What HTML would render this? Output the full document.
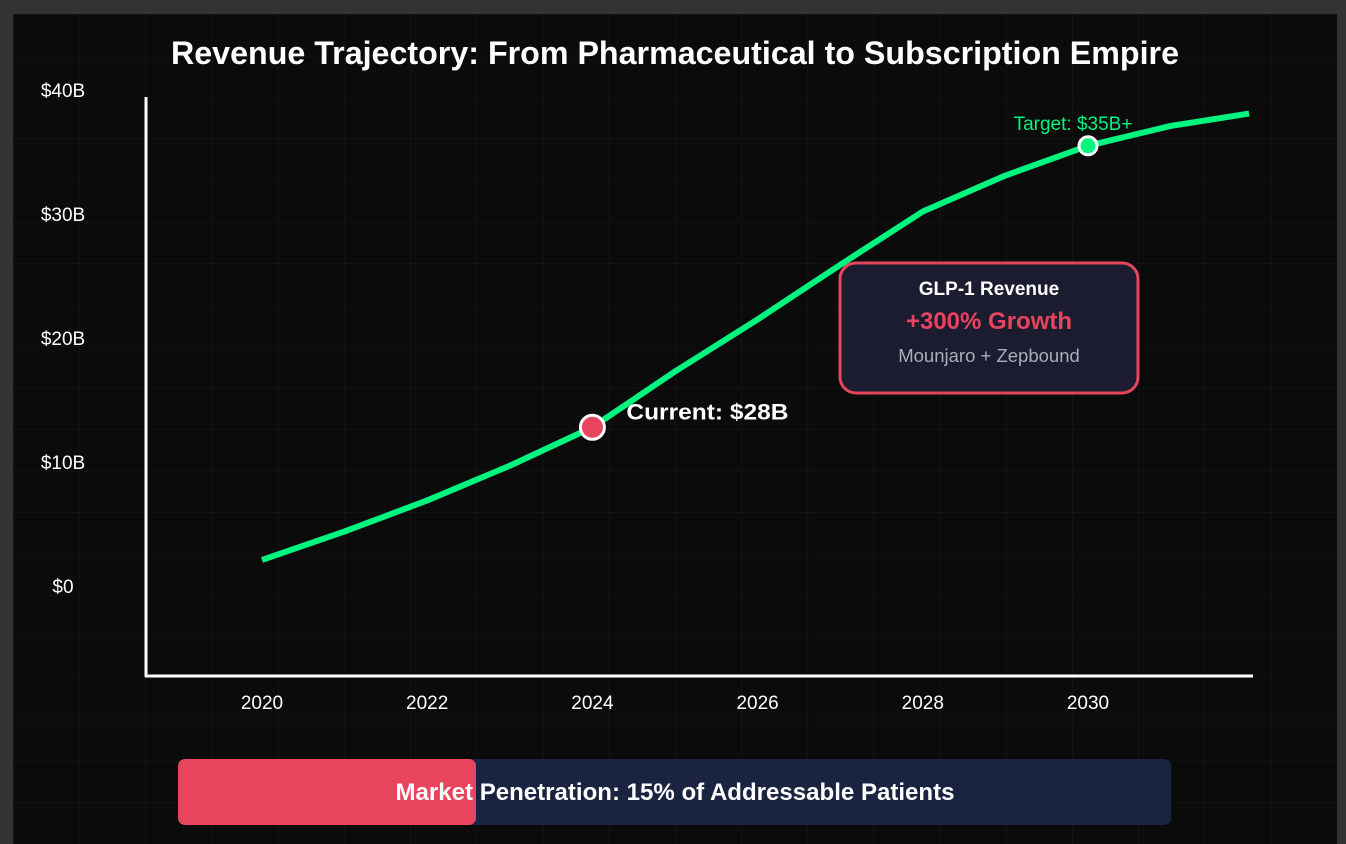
<!DOCTYPE html>
<html><head><meta charset="utf-8">
<style>
html,body{margin:0;padding:0;width:1346px;height:838px;overflow:hidden;background:#333;font-family:"Liberation Sans",sans-serif;}
#panel{position:absolute;left:13px;top:14px;width:1324px;height:830px;background-color:#0b0b0b;
background-image:linear-gradient(to right,#131313 1px,transparent 1px),linear-gradient(to bottom,#131313 1px,transparent 1px);
background-size:66.2px 41.5px;}
svg{position:absolute;left:0;top:0;}
</style></head><body>
<div id="panel"></div>
<svg width="1346" height="838">
<text x="675" y="64" text-anchor="middle" fill="#fff" font-size="32" font-weight="bold" textLength="1008" lengthAdjust="spacingAndGlyphs">Revenue Trajectory: From Pharmaceutical to Subscription Empire</text>
<g id="yticks"></g><g id="xticks"></g>
<line x1="146" y1="97" x2="146" y2="677" stroke="#fff" stroke-width="3"/>
<line x1="145" y1="676" x2="1253" y2="676" stroke="#fff" stroke-width="3"/>
<polyline id="line" fill="none" stroke="#00f57f" stroke-width="6" stroke-linejoin="round"/>
<g id="marks"></g>
<rect x="840" y="263" width="298" height="130" rx="16" fill="#1b1c30" stroke="#e8445e" stroke-width="3"/>
<text x="989" y="295" text-anchor="middle" fill="#fff" font-size="19" font-weight="bold">GLP-1 Revenue</text>
<text x="989" y="329" text-anchor="middle" fill="#e8445e" font-size="24" font-weight="bold">+300% Growth</text>
<text x="989" y="362" text-anchor="middle" fill="#a9adb8" font-size="18.5">Mounjaro + Zepbound</text>
<rect x="178" y="759" width="993" height="66" rx="7" fill="#1a2340"/>
<rect x="178" y="759" width="298" height="66" rx="7" fill="#e8445e"/>
<text x="675" y="800" text-anchor="middle" fill="#fff" font-size="24" font-weight="bold" textLength="559" lengthAdjust="spacingAndGlyphs">Market Penetration: 15% of Addressable Patients</text>
</svg>
<script>
const years=[2020,2021,2022,2023,2024,2025,2026,2027,2028,2029,2030,2031,2031.95];
const revenue=[2.1,4.4,6.9,9.7,12.8,17.3,21.5,25.9,30.2,33.1,35.5,37.1,38.1];
const yTickValues=[0,10,20,30,40];
const yTickLabels=["$0","$10B","$20B","$30B","$40B"];
const xTickValues=[2020,2022,2024,2026,2028,2030];
const currentPoint={year:2024,value:12.8,label:"Current: $28B"};
const targetPoint={year:2030,value:35.5,label:"Target: $35B+"};
const NS="http://www.w3.org/2000/svg";
function xs(y){return 262+(y-2020)*82.6;}
function ys(v){return 586-v*12.4;}
function mk(tag,attrs,parent,txt){const e=document.createElementNS(NS,tag);for(const k in attrs)e.setAttribute(k,attrs[k]);if(txt!==undefined)e.textContent=txt;parent.appendChild(e);return e;}
const yt=document.getElementById('yticks');
yTickValues.forEach((v,i)=>{const t=mk('text',{x:63,y:ys(v)+7,'text-anchor':'middle',fill:'#fff','font-size':19},yt,yTickLabels[i]);

});
const xt=document.getElementById('xticks');
xTickValues.forEach(v=>{const t=mk('text',{x:xs(v),y:709,'text-anchor':'middle',fill:'#fff','font-size':19},xt,String(v));

});
document.getElementById('line').setAttribute('points',years.map((y,i)=>xs(y)+','+ys(revenue[i])).join(' '));
const m=document.getElementById('marks');
const c1=mk('circle',{cx:xs(currentPoint.year),cy:ys(currentPoint.value),r:12,fill:'#e8445e',stroke:'#fff','stroke-width':3},m);


const l1=mk('text',{x:xs(currentPoint.year)+34,y:ys(currentPoint.value)-8,fill:'#fff','font-size':22,'font-weight':'bold',textLength:162,lengthAdjust:'spacingAndGlyphs'},m,currentPoint.label);


const c2=mk('circle',{cx:xs(targetPoint.year),cy:ys(targetPoint.value),r:9,fill:'#00f57f',stroke:'#fff','stroke-width':3},m);


const l2=mk('text',{x:xs(targetPoint.year)-15,y:ys(targetPoint.value)-16,'text-anchor':'middle',fill:'#00f57f','font-size':19},m,targetPoint.label);


</script>
</body></html>
